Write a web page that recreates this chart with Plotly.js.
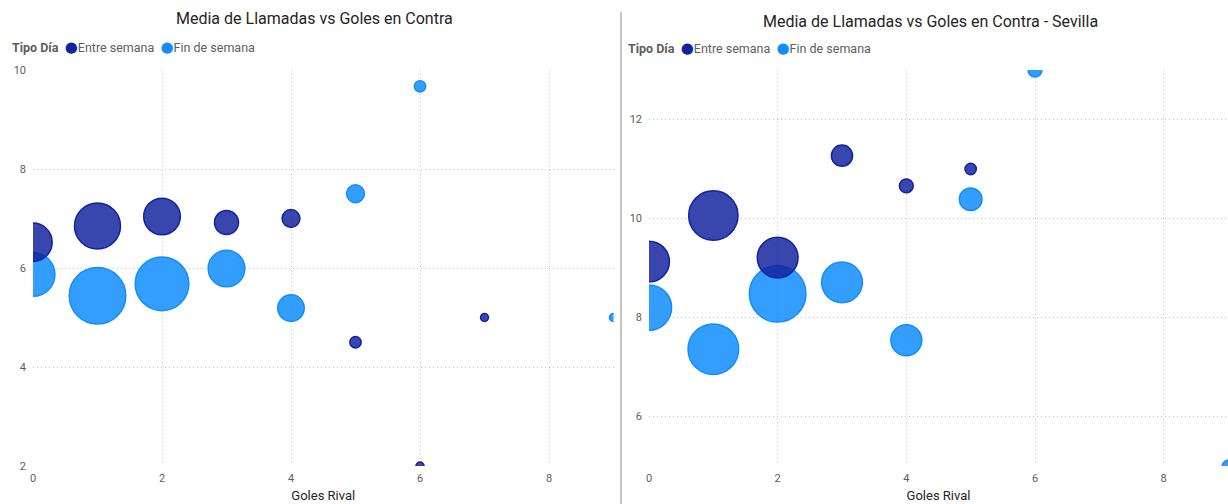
<!DOCTYPE html>
<html><head><meta charset="utf-8">
<script src="https://cdn.plot.ly/plotly-3.0.1.min.js"></script>
<style>html,body{margin:0;padding:0;background:#fff}#chart{width:1228px;height:504px}</style>
</head><body><div id="chart"></div>
<script>
// ---- Data ----
const seriesNames = ["Entre semana", "Fin de semana"];
const legendTitle = "Tipo Día";
const chartTitles = ["Media de Llamadas vs Goles en Contra", "Media de Llamadas vs Goles en Contra - Sevilla"];
const xAxisTitle = "Goles Rival";

// General chart
const golesEntreTotal    = [0, 1, 2, 3, 4, 5, 6, 7];
const llamadasEntreTotal = [6.52, 6.85, 7.04, 6.92, 7.0, 4.5, 2.0, 5.0];
const partidosEntreTotal = [23, 33, 21, 9, 5, 2, 1, 1];
const golesFinTotal      = [0, 1, 2, 3, 4, 5, 6, 9];
const llamadasFinTotal   = [5.87, 5.44, 5.68, 5.99, 5.19, 7.5, 9.67, 5.0];
const partidosFinTotal   = [30, 50, 45, 21, 11, 5, 2, 1];

// Sevilla chart
const golesEntreSev    = [0, 1, 2, 3, 4, 5];
const llamadasEntreSev = [9.13, 10.06, 9.21, 11.27, 10.66, 11.0];
const partidosEntreSev = [26, 38, 26, 7, 3, 2];
const golesFinSev      = [0, 1, 2, 3, 4, 5, 6, 9];
const llamadasFinSev   = [8.2, 7.36, 8.48, 8.71, 7.54, 10.39, 13.0, 5.0];
const partidosFinSev   = [32, 40, 50, 26, 15, 8, 3, 2];

const xTicks = [0, 2, 4, 6, 8];
const yTicksTotal = [2, 4, 6, 8, 10];
const yTicksSev = [6, 8, 10, 12];

// ---- Styling ----
const W = 1228, H = 504;
const colEntre = "#12239E", colFin = "#118DFF";
const fillEntre = "rgba(18,35,158,0.84)", fillFin = "rgba(17,141,255,0.85)";
const FONT = "Roboto, 'DejaVu Sans', sans-serif";
const SIZEREF = 1 / 32;

function bubble(x, y, s, name, fill, color, xa, ya) {
  return {
    type: "scatter", mode: "markers", name: name,
    x: x, y: y, xaxis: xa, yaxis: ya,
    showlegend: false,
    marker: {
      size: s, sizemode: "area", sizeref: SIZEREF, sizemin: 1,
      color: fill, opacity: 1,
      line: {color: color, width: 1.5}
    },
    hoverinfo: "x+y"
  };
}

const traces = [
  bubble(golesFinTotal, llamadasFinTotal, partidosFinTotal, seriesNames[1], fillFin, colFin, "x", "y"),
  bubble(golesEntreTotal, llamadasEntreTotal, partidosEntreTotal, seriesNames[0], fillEntre, colEntre, "x", "y"),
  bubble(golesFinSev, llamadasFinSev, partidosFinSev, seriesNames[1], fillFin, colFin, "x2", "y2"),
  bubble(golesEntreSev, llamadasEntreSev, partidosEntreSev, seriesNames[0], fillEntre, colEntre, "x2", "y2")
];

const plotTop = 70, plotBottom = 466;
const ph = plotBottom - plotTop;
const py = px => (plotBottom - px) / ph;  // pixel y -> paper y

const GRID = {showgrid: true, gridcolor: "#c4c4c4", griddash: "1px,3px", gridwidth: 1};

function xAxis(domain, anchor) {
  return Object.assign({
    domain: domain, anchor: anchor, range: [0, 9], tickvals: xTicks,
    zeroline: false, showline: false, ticks: "",
    tickfont: {family: FONT, size: 11, color: "#605E5C"},
    ticklabelstandoff: 4,
    title: {text: xAxisTitle, font: {family: FONT, size: 13, color: "#252423"}, standoff: 6},
    fixedrange: true
  }, GRID);
}
function yAxis(range, ticks, anchor) {
  return Object.assign({
    domain: [0, 1], anchor: anchor, range: range, tickvals: ticks,
    zeroline: false, showline: false, ticks: "",
    tickfont: {family: FONT, size: 11, color: "#605E5C"},
    ticklabelstandoff: 6,
    fixedrange: true
  }, GRID);
}

function legendText() {
  const dot = c => "<span style='color:" + c + ";font-size:15px'>●</span>";
  return "<b>" + legendTitle + "</b>  " +
    dot(colEntre) + seriesNames[0] + "  " +
    dot(colFin) + seriesNames[1];
}

const layout = {
  width: W, height: H,
  margin: {l: 0, r: 0, t: plotTop, b: H - plotBottom, pad: 0},
  paper_bgcolor: "#ffffff", plot_bgcolor: "#ffffff",
  font: {family: FONT, color: "#252423"},
  showlegend: false,
  xaxis: xAxis([33 / W, 613.5 / W], "y"),
  yaxis: yAxis([2, 10], yTicksTotal, "x"),
  xaxis2: xAxis([649 / W, 1], "y2"),
  yaxis2: yAxis([5, 13], yTicksSev, "x2"),
  annotations: [
    {text: chartTitles[0], xref: "paper", yref: "paper", x: 314 / W, y: py(19), xanchor: "center", yanchor: "middle",
     showarrow: false, font: {family: FONT, size: 16, color: "#252423"}},
    {text: chartTitles[1], xref: "paper", yref: "paper", x: 930 / W, y: py(21), xanchor: "center", yanchor: "middle",
     showarrow: false, font: {family: FONT, size: 16, color: "#252423"}},
    {text: legendText(), xref: "paper", yref: "paper", x: 10 / W, y: py(47), xanchor: "left", yanchor: "middle",
     showarrow: false, font: {family: FONT, size: 12.5, color: "#605E5C"}},
    {text: legendText(), xref: "paper", yref: "paper", x: 626 / W, y: py(48), xanchor: "left", yanchor: "middle",
     showarrow: false, font: {family: FONT, size: 12.5, color: "#605E5C"}}
  ],
  shapes: [
    {type: "line", xref: "paper", yref: "paper", x0: 621 / W, x1: 621 / W, y0: py(12), y1: py(504),
     line: {color: "#8a8a8a", width: 1}}
  ]
};

Plotly.newPlot("chart", traces, layout, {displayModeBar: false, staticPlot: true});
</script>
</body></html>
